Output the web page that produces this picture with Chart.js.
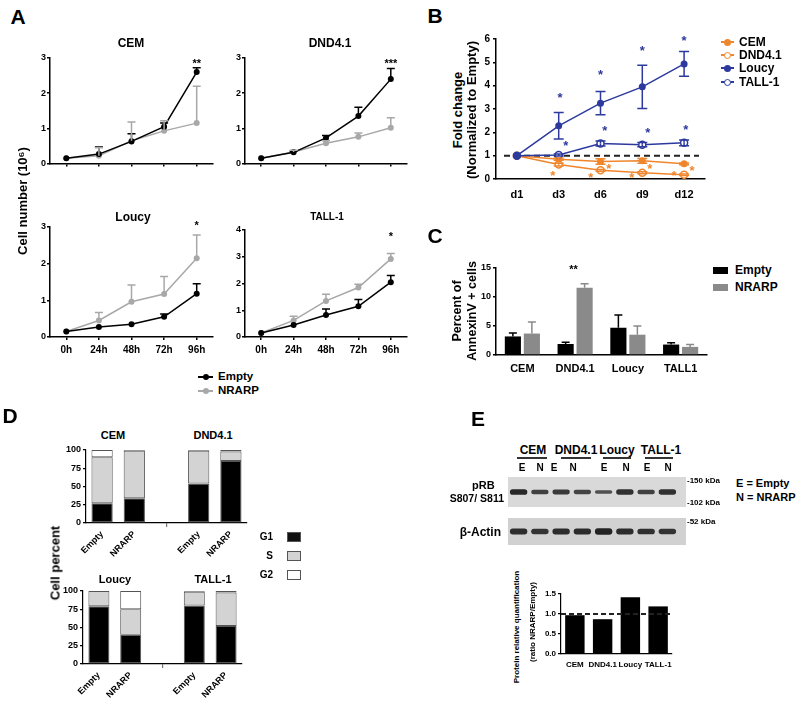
<!DOCTYPE html>
<html><head><meta charset="utf-8">
<script src="https://cdn.jsdelivr.net/npm/chart.js@4.4.1/dist/chart.umd.min.js"></script>
<style>
body{margin:0;background:#fff}
#root{position:relative;width:800px;height:705px;overflow:hidden;background:#fff;font-family:'Liberation Sans',Arial,sans-serif;font-weight:bold;color:#000}
.t{position:absolute;white-space:nowrap;line-height:1;font-weight:bold}
.r{position:absolute;box-sizing:border-box}
</style></head><body><div id="root"></div>
<script>
// ---------- DATA ----------
const hours = ['0h','24h','48h','72h','96h'];
const cemEmpty = [0.15,0.27,0.63,1.05,2.6];
const cemEmptyTop = [null,0.47,0.85,1.15,2.72];
const cemNrarp = [0.15,0.22,0.65,0.93,1.15];
const cemNrarpTop = [null,0.45,1.18,1.22,2.2];
const dndEmpty = [0.15,0.32,0.73,1.35,2.4];
const dndEmptyTop = [null,0.35,0.8,1.6,2.7];
const dndNrarp = [0.15,0.33,0.58,0.76,1.02];
const dndNrarpTop = [null,0.38,0.65,0.87,1.3];
const loucyEmpty = [0.15,0.27,0.35,0.55,1.18];
const loucyEmptyTop = [null,null,null,0.63,1.45];
const loucyNrarp = [0.15,0.45,0.96,1.17,2.15];
const loucyNrarpTop = [null,0.67,1.42,1.65,2.78];
const tallEmpty = [0.15,0.45,0.82,1.15,2.05];
const tallEmptyTop = [null,null,1.05,1.4,2.3];
const tallNrarp = [0.15,0.62,1.35,1.85,2.92];
const tallNrarpTop = [null,0.78,1.6,1.97,3.12];
const aStarsCem = [[4,2.92,'**']];
const aStarsDnd = [[4,2.92,'***']];
const aStarsLoucy = [[4,3.12,'*']];
const aStarsTall = [[4,3.85,'*']];

const days = ['d1','d3','d6','d9','d12'];
const bCem = [1,0.85,0.75,0.78,0.65];
const bCemErr = [0,0.05,0.12,0.1,0.04];
const bDnd = [1,0.62,0.37,0.27,0.18];
const bDndErr = [0,0.06,0.04,0.04,0.03];
const bLoucy = [1,2.28,3.25,3.95,4.93];
const bLoucyErr = [0,0.57,0.5,0.93,0.53];
const bTall = [1,1.03,1.52,1.47,1.55];
const bTallErr = [0,0.04,0.11,0.09,0.12];
const bStarsBlue = [[1.03,3.63],[1.17,1.58],[2.0,4.63],[2.1,2.2],[3.0,5.63],[3.13,2.13],[4.0,6.08],[4.04,2.27]];
const bStarsOrange = [[0.86,0.3],[1.77,0.21],[2.2,0.57],[2.75,0.2],[3.18,0.6],[3.76,0.27],[4.19,0.48]];

const cGroups = ['CEM','DND4.1','Loucy','TALL1'];
const cEmpty = [3.2,1.9,4.7,1.8];
const cEmptyTop = [3.8,2.2,6.9,2.1];
const cNrarp = [3.7,11.6,3.5,1.4];
const cNrarpTop = [5.7,12.3,5.0,1.8];
const cStars = [[0.97,15.2,'**']];

const dLabels = ['Empty','NRARP','','Empty','NRARP'];
const dTopG1 = [27,34,null,54,85];
const dTopS  = [63,65,null,45,13];
const dTopG2 = [10,1,null,1,2];
const dBotG1 = [79,40,null,80,52];
const dBotS  = [21,35,null,19,46];
const dBotG2 = [0,25,null,1,2];

const lanes = ['E','N','E','N','E','N','E','N'];
const pRBDensity = [0.95,0.75,0.8,0.72,0.6,0.88,0.75,0.88];
const actinDensity = [0.9,0.85,0.92,0.92,1.0,0.92,0.88,0.85];
const eLabels = ['CEM','DND4.1','Loucy','TALL-1'];
const eRatio = [0.97,0.87,1.42,1.19];

// ---------- HELPERS ----------
const F = "'Liberation Sans', Arial, sans-serif";
const root = document.getElementById('root');
const GRAY = '#a8a8a8', ORANGE = '#f0862c', BLUE = '#2c3a9e';

function T(s,x,y,size,align,rot,color){
  const d=document.createElement('div'); d.className='t'; d.textContent=s;
  d.style.left=x+'px'; d.style.top=y+'px'; d.style.fontSize=size+'px';
  if(color) d.style.color=color;
  const tx = align==='l'?'0':align==='r'?'-100%':'-50%';
  d.style.transform='translate('+tx+',-50%)'+(rot?' rotate('+rot+'deg)':'');
  root.appendChild(d);
}
function R(x,y,w,h,bg,border,radius){
  const d=document.createElement('div'); d.className='r';
  d.style.cssText+='left:'+x+'px;top:'+y+'px;width:'+w+'px;height:'+h+'px;background:'+bg+';'+(border?'border:'+border+';':'')+(radius?'border-radius:'+radius+';':'');
  root.appendChild(d);
}

const errPlugin = {id:'errbars', afterDatasetsDraw(chart){
  const ctx=chart.ctx, ys=chart.scales.y;
  chart.data.datasets.forEach((ds,i)=>{
    if(!ds.errHi && !ds.errLo) return;
    const meta=chart.getDatasetMeta(i);
    ctx.save(); ctx.strokeStyle=ds.errColor||ds.borderColor; ctx.lineWidth=ds.errWidth||1.5; ctx.setLineDash([]);
    meta.data.forEach((el,j)=>{
      const v=ds.data[j]; if(v==null) return;
      const x=el.x, cap=ds.errCap||4, yv=ys.getPixelForValue(v);
      [ds.errHi?ds.errHi[j]:null, ds.errLo?ds.errLo[j]:null].forEach(e=>{
        if(e==null) return;
        const ye=ys.getPixelForValue(e);
        ctx.beginPath(); ctx.moveTo(x,yv); ctx.lineTo(x,ye); ctx.moveTo(x-cap,ye); ctx.lineTo(x+cap,ye); ctx.stroke();
      });
    });
    ctx.restore();
  });
}};
Chart.register(errPlugin);

function stars(items,size,color,id){ return {id:id||'stars', afterDraw(chart){
  const ctx=chart.ctx, xs=chart.scales.x, ys=chart.scales.y;
  ctx.save(); ctx.fillStyle=color; ctx.font='bold '+size+'px '+F; ctx.textAlign='center'; ctx.textBaseline='alphabetic';
  items.forEach(it=>{ ctx.fillText(it[2]||'*', xs.getPixelForValue(it[0]), ys.getPixelForValue(it[1])+size*0.58); });
  ctx.restore();
}};}
function hline(v,o){ const hook=o.top?'afterDatasetsDraw':'beforeDatasetsDraw'; return {id:'hline', [hook](chart){
  const ctx=chart.ctx, a=chart.chartArea, y=chart.scales.y.getPixelForValue(v);
  ctx.save(); ctx.setLineDash(o.dash); ctx.lineWidth=o.w; ctx.strokeStyle=o.c||'#222';
  ctx.beginPath(); ctx.moveTo(a.left+(o.l||0),y); ctx.lineTo(a.right+(o.r||0),y); ctx.stroke(); ctx.restore();
}};}
function bg(color){ return {id:'bg', beforeDraw(chart){ const c=chart.ctx; c.save(); c.fillStyle=color; c.fillRect(0,0,chart.width,chart.height); c.restore(); }}; }

function axis(o){
  const grid={display:true, drawOnChartArea:false, drawTicks:true, tickLength:o.tl||3, color:'#000', lineWidth:o.bw||1.5, offset:false};
  if(o.tickColor) grid.tickColor=o.tickColor;
  const ticks={display:o.show!==false, color:'#000', font:{family:F,weight:'bold',size:o.size||9}, padding:(o.pad!=null?o.pad:2), autoSkip:false, maxRotation:o.rot||0, minRotation:o.rot||0};
  if(o.step) ticks.stepSize=o.step;
  if(o.cb) ticks.callback=o.cb;
  const a={border:{display:true,color:'#000',width:o.bw||1.5}, grid, ticks};
  if(o.type) a.type=o.type;
  if(o.min!=null) a.min=o.min;
  if(o.max!=null) a.max=o.max;
  if(o.offset!=null) a.offset=o.offset;
  if(o.stacked) a.stacked=true;
  return a;
}
function opts(scales){ return {responsive:false, animation:false, events:[], devicePixelRatio:1, plugins:{legend:{display:false},tooltip:{enabled:false}}, scales}; }

function mk(px,py,pw,ph,yW,xH,padT,padR,cfg){
  const c=document.createElement('canvas');
  const W=yW+pw+padR, H=padT+ph+xH;
  c.width=W; c.height=H;
  c.style.cssText='position:absolute;left:'+(px-yW)+'px;top:'+(py-padT)+'px;width:'+W+'px;height:'+H+'px';
  root.appendChild(c);
  cfg.options.layout={padding:{top:padT,right:padR,left:0,bottom:0}};
  if(cfg.options.scales.x) cfg.options.scales.x.afterFit=s=>{s.height=xH;};
  if(cfg.options.scales.y) cfg.options.scales.y.afterFit=s=>{s.width=yW;};
  return new Chart(c,cfg);
}

// ---------- PANEL A ----------
function aChart(px,py,pw,ph,ymax,emp,empTop,nr,nrTop,showX,st){
  return mk(px,py,pw,ph,22,showX?22:6,10,6,{
    type:'line',
    data:{labels:hours,datasets:[
      {data:emp,borderColor:'#000',backgroundColor:'#000',pointRadius:3,pointBorderWidth:0,borderWidth:1.5,errHi:empTop,errCap:4},
      {data:nr,borderColor:GRAY,backgroundColor:GRAY,pointRadius:3,pointBorderWidth:0,borderWidth:1.5,errHi:nrTop,errCap:4}
    ]},
    options:opts({
      x:axis({offset:true,show:showX,size:10,pad:4}),
      y:axis({min:0,max:ymax,step:1,size:9,pad:1})
    }),
    plugins:[stars(st,11,'#000')]
  });
}
aChart(50,58,163,106,3,cemEmpty,cemEmptyTop,cemNrarp,cemNrarpTop,false,aStarsCem);
aChart(245,58,162,106,3,dndEmpty,dndEmptyTop,dndNrarp,dndNrarpTop,false,aStarsDnd);
aChart(50,227,163,110,3,loucyEmpty,loucyEmptyTop,loucyNrarp,loucyNrarpTop,true,aStarsLoucy);
aChart(245,230,162,107,4,tallEmpty,tallEmptyTop,tallNrarp,tallNrarpTop,true,aStarsTall);

T('A',18,16,21,'c');
T('CEM',131,43,12,'c'); T('DND4.1',330,43,12,'c');
T('Loucy',133,217,12,'c'); T('TALL-1',327,217,10,'c');
T('Cell number (10⁶)',22,201,13,'c',-90);
R(198,376,15,1.5,'#000'); R(203,374,6,6,'#000',null,'50%'); T('Empty',218,377,11.5,'l');
R(198,390,15,1.5,GRAY); R(203,388,6,6,GRAY,null,'50%'); T('NRARP',218,391,11.5,'l');

// ---------- PANEL B ----------
function pm(v,e,s){ return v.map((x,i)=>e[i]?x+s*e[i]:null); }
mk(496,39,209,140,25,24,10,6,{
  type:'line',
  data:{labels:days,datasets:[
    {data:bLoucy,borderColor:BLUE,backgroundColor:BLUE,pointRadius:3.5,pointBorderWidth:0,borderWidth:1.5,errHi:pm(bLoucy,bLoucyErr,1),errLo:pm(bLoucy,bLoucyErr,-1),errCap:5},
    {data:bTall,borderColor:BLUE,pointBackgroundColor:'#fff',pointBorderColor:BLUE,pointRadius:3.5,pointBorderWidth:1.5,borderWidth:1.5,errHi:pm(bTall,bTallErr,1),errLo:pm(bTall,bTallErr,-1),errCap:5},
    {data:bCem,borderColor:ORANGE,backgroundColor:ORANGE,pointRadius:3.5,pointBorderWidth:0,borderWidth:1.5,errHi:pm(bCem,bCemErr,1),errLo:pm(bCem,bCemErr,-1),errCap:5},
    {data:bDnd,borderColor:ORANGE,pointBackgroundColor:'#fff',pointBorderColor:ORANGE,pointRadius:3.5,pointBorderWidth:1.5,borderWidth:1.5,errHi:pm(bDnd,bDndErr,1),errLo:pm(bDnd,bDndErr,-1),errCap:5}
  ]},
  options:opts({
    x:axis({offset:true,size:11,pad:6,tickColor:'rgba(0,0,0,0)'}),
    y:axis({min:0,max:6,step:1,size:10,pad:3})
  }),
  plugins:[hline(1,{dash:[6,4],w:2,c:'#222',l:8,r:-6}),stars(bStarsBlue,13,BLUE,'sb'),stars(bStarsOrange,13,ORANGE,'so')]
});
T('B',435,15,21,'c');
T('Fold change',457,110,13,'c',-90);
T('(Normalized to Empty)',471,110,13,'c',-90);
[['CEM',ORANGE,true],['DND4.1',ORANGE,false],['Loucy',BLUE,true],['TALL-1',BLUE,false]].forEach((e,i)=>{
  const y=[42,55,68,82][i];
  R(721,y-0.75,13,1.5,e[1]);
  R(724,y-3.5,7,7,e[2]?e[1]:'#fff',e[2]?null:'1.5px solid '+e[1],'50%');
  T(e[0],739,y,12,'l');
});

// ---------- PANEL C ----------
mk(496,268,211,87,25,20,10,6,{
  type:'bar',
  data:{labels:cGroups,datasets:[
    {data:cEmpty,backgroundColor:'#000',borderColor:'#000',errHi:cEmptyTop,errCap:4,categoryPercentage:0.72,barPercentage:0.85},
    {data:cNrarp,backgroundColor:'#8a8a8a',borderColor:'#8a8a8a',errHi:cNrarpTop,errCap:4,categoryPercentage:0.72,barPercentage:0.85}
  ]},
  options:opts({
    x:axis({size:11,pad:4,tickColor:'rgba(0,0,0,0)'}),
    y:axis({min:0,max:15,step:5,size:9,pad:2})
  }),
  plugins:[stars(cStars,11,'#000')]
});
T('C',435,235,21,'c');
T('Percent of',457,311,12.5,'c',-90);
T('AnnexinV + cells',472,311,12.5,'c',-90);
R(713,267,15,7,'#000'); T('Empty',735,270,12,'l');
R(713,284,15,7,'#8a8a8a'); T('NRARP',735,287,12,'l');

// ---------- PANEL D ----------
function dChart(px,py,pw,g1,s,g2){
  const common={borderColor:'#555',borderWidth:1,borderSkipped:false,categoryPercentage:1,barPercentage:0.66};
  return mk(px,py,pw,73,30,45,8,6,{
    type:'bar',
    data:{labels:dLabels,datasets:[
      Object.assign({data:g1,backgroundColor:'#000'},common),
      Object.assign({data:s,backgroundColor:'#d3d3d3'},common),
      Object.assign({data:g2,backgroundColor:'#fff'},common)
    ]},
    options:opts({
      x:axis({stacked:true,size:9,pad:2,rot:45,tl:4,tickColor:ctx=>ctx.index===2?'#777':'rgba(0,0,0,0)',bw:1.2}),
      y:axis({stacked:true,min:0,max:100,step:25,size:9,pad:2,bw:1.2})
    })
  });
}
dChart(86,450,161,dTopG1,dTopS,dTopG2);
dChart(83,591,159,dBotG1,dBotS,dBotG2);
T('D',10,415,21,'c');
T('CEM',113,435,11,'c'); T('DND4.1',213,435,11,'c');
T('Loucy',115,579,11,'c'); T('TALL-1',213,579,11,'c');
T('Cell percent',55,563,13,'c',-90);
T('G1',273,537,10,'r'); R(287,532,14,10,'#111','1px solid #555');
T('S',273,556,10,'r'); R(287,551,14,10,'#d3d3d3','1px solid #555');
T('G2',273,575,10,'r'); R(287,570,14,10,'#fff','1px solid #555');

// ---------- PANEL E ----------
T('E',478,418,21,'c');
[['CEM',533,517,547],['DND4.1',576,561,591],['Loucy',617,603,631],['TALL-1',661,645,673]].forEach(h=>{
  T(h[0],h[1],450,12,'c'); R(h[2],457,h[3]-h[2],1.5,'#333');
});
[522,540,554,573,604,626,647,668].forEach((x,i)=>T(lanes[i],x,468,10,'c'));
function blot(py,ph,dens,k,color){
  return mk(508,py,170,ph,0,0,0,8,{
    type:'bar',
    data:{labels:lanes,datasets:[{data:dens.map(d=>[0.5-d*k,0.5+d*k]),backgroundColor:dens.map(d=>'rgba(25,25,25,'+(0.35+0.6*d).toFixed(2)+')'),borderRadius:3,borderSkipped:false,categoryPercentage:1,barPercentage:0.82}]},
    options:opts({x:{display:false},y:{display:false,min:0,max:1}}),
    plugins:[bg(color)]
  });
}
blot(477,30,pRBDensity,0.1,'#d9d9d9');
blot(518,27,actinDensity,0.12,'#d1d1d1');
T('pRB',472,485,11,'l'); T('S807/ S811',504,498,10.5,'r');
T('β-Actin',501,532,12,'r');
T('-150 kDa',687,481,8,'l'); T('-102 kDa',687,503,8,'l'); T('-52 kDa',687,522,8,'l');
T('E = Empty',736,483,11,'l'); T('N = NRARP',736,497,11,'l');

mk(561,594,111,60,25,18,8,6,{
  type:'bar',
  data:{labels:eLabels,datasets:[{data:eRatio,backgroundColor:'#000',categoryPercentage:1,barPercentage:0.7}]},
  options:opts({
    x:axis({size:8,pad:3,bw:1.2,tickColor:'rgba(0,0,0,0)'}),
    y:axis({min:0,max:1.5,step:0.5,size:8,pad:2,bw:1.2,cb:v=>Number(v).toFixed(1)})
  }),
  plugins:[hline(1,{dash:[5,3],w:1.8,c:'#222',top:true})]
});
T('Protein relative quantification',517,627,8,'c',-90);
T('(ratio NRARP/Empty)',533,622,8,'c',-90);
</script></body></html>
